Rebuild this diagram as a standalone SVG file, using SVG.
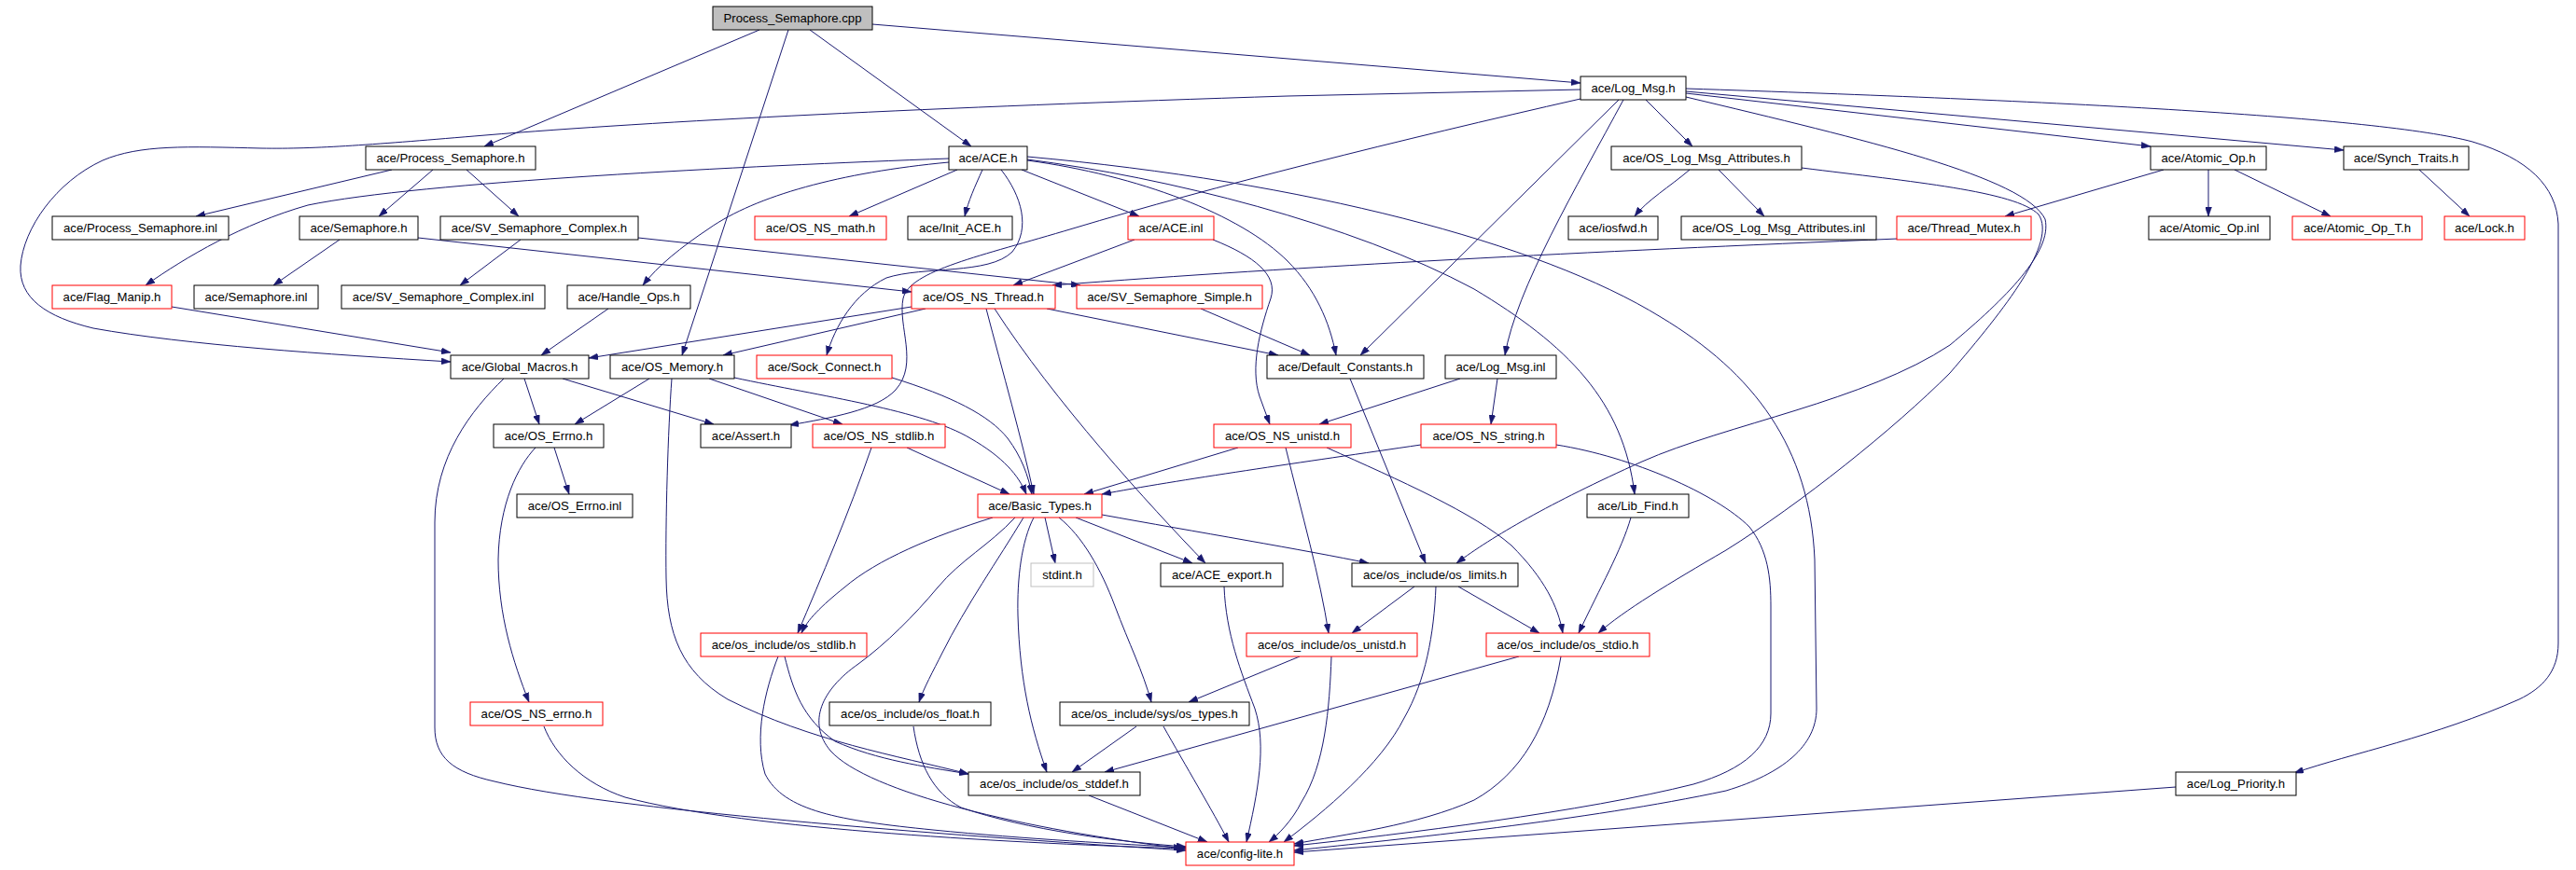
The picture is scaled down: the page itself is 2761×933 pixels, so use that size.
<svg xmlns="http://www.w3.org/2000/svg" width="2761" height="933" viewBox="0 0 2761 933">
<style>
rect{fill:#fff;stroke:#000;stroke-width:1}
.r rect{stroke:#ff0000}
.g rect{stroke:#bfbfbf}
.root rect{fill:#bfbfbf}
text{font-family:"Liberation Sans",Arial,sans-serif;font-size:13.2px;text-anchor:middle;fill:#000}
#edges path{fill:none;stroke:#191970;stroke-width:1;marker-end:url(#a)}
</style>
<defs>
<marker id="a" viewBox="0 0 10 7" refX="10" refY="3.5" markerWidth="10" markerHeight="7" markerUnits="userSpaceOnUse" orient="auto"><path d="M0,0 L10,3.5 L0,7 z" fill="#191970" stroke="#191970" stroke-width="0.5"/></marker>
</defs>
<rect x="0" y="0" width="2761" height="933" style="fill:#fff;stroke:none"/>
<g id="edges">
<path d="M814,32 L519,157"/>
<path d="M845,32 L731,381"/>
<path d="M868,32 L1041,157"/>
<path d="M935,26 L1694,89"/>
<path d="M1694,96 L1380,103 C1000,115 700,130 520,145 C400,155 340,160 280,159 C200,157 150,155 110,172 C60,195 25,245 22,285 C20,320 50,340 100,352 C200,370 350,380 483,388"/>
<path d="M1694,106 C1500,150 1300,200 1150,245 C1050,275 975,290 968,320 C962,350 985,390 960,418 C940,440 890,448 846,456"/>
<path d="M1073,182 C1095,210 1105,245 1085,270 C1060,295 990,285 950,298 C915,315 895,350 886,381"/>
<path d="M1735,107 L1458,381"/>
<path d="M1740,107 C1690,200 1625,310 1613,381"/>
<path d="M1764,107 L1814,157"/>
<path d="M1807,100 L2305,157"/>
<path d="M1807,98 L2512,161"/>
<path d="M1807,95 C2200,108 2550,125 2650,152 C2710,170 2740,200 2742,240 L2742,690 C2742,720 2725,738 2700,750 C2610,790 2520,808 2459,829"/>
<path d="M1807,104 C2000,150 2170,190 2192,235 C2200,270 2150,320 2090,370 C2000,430 1850,455 1760,495 C1660,540 1600,575 1561,604"/>
<path d="M1017,170 C800,178 450,195 330,220 C260,240 200,275 156,306"/>
<path d="M1017,174 C900,185 810,210 760,245 C730,265 705,285 689,306"/>
<path d="M1026,182 L910,232"/>
<path d="M1053,182 C1045,200 1038,215 1034,232"/>
<path d="M1095,182 L1221,232"/>
<path d="M1101,172 C1220,188 1330,230 1380,280 C1410,310 1425,345 1432,381"/>
<path d="M1101,171 C1250,190 1450,240 1580,310 C1680,370 1740,430 1752,530"/>
<path d="M1101,168 C1400,195 1650,260 1780,340 C1880,400 1940,480 1945,600 L1947,760 C1947,800 1910,830 1850,848 C1700,880 1500,900 1387,912"/>
<path d="M1216,257 L1086,306"/>
<path d="M1300,257 C1345,275 1370,295 1362,320 C1350,355 1340,395 1350,425 L1361,455"/>
<path d="M420,182 L210,232"/>
<path d="M464,182 L406,232"/>
<path d="M500,182 L556,232"/>
<path d="M364,257 L293,306"/>
<path d="M448,255 L977,313"/>
<path d="M558,257 L493,306"/>
<path d="M684,255 L1158,306"/>
<path d="M184,329 L483,378"/>
<path d="M652,331 L580,381"/>
<path d="M2034,256 C1700,270 1400,285 1128,306"/>
<path d="M2319,182 L2149,232"/>
<path d="M2367,182 L2367,232"/>
<path d="M2395,182 L2498,232"/>
<path d="M2593,182 L2647,232"/>
<path d="M1811,182 C1790,200 1765,215 1752,232"/>
<path d="M1842,182 L1891,232"/>
<path d="M1931,180 C2050,195 2160,205 2185,230 C2205,260 2150,330 2090,400 C2030,460 1930,540 1850,590 C1790,625 1740,655 1713,679"/>
<path d="M977,329 L631,384"/>
<path d="M992,331 L775,381"/>
<path d="M1057,331 C1075,400 1095,470 1108,530"/>
<path d="M1066,331 C1130,430 1230,540 1292,604"/>
<path d="M1122,331 L1370,381"/>
<path d="M1287,331 L1404,381"/>
<path d="M562,406 L578,455"/>
<path d="M603,406 L765,455"/>
<path d="M540,406 C505,440 466,490 466,560 L466,780 C466,812 485,828 530,838 C650,868 1000,895 1271,912"/>
<path d="M696,406 L616,455"/>
<path d="M760,406 L903,455"/>
<path d="M787,405 C880,425 990,440 1040,470 C1075,490 1092,510 1100,530"/>
<path d="M720,406 C716,460 713,560 714,620 C715,680 730,720 780,750 C870,795 960,810 1038,830"/>
<path d="M956,405 C1020,425 1060,445 1080,470 C1095,490 1102,510 1106,530"/>
<path d="M594,480 L610,530"/>
<path d="M574,480 C555,500 535,540 534,600 C534,660 550,710 567,753"/>
<path d="M1447,406 L1528,604"/>
<path d="M1565,406 L1414,455"/>
<path d="M1605,406 L1598,455"/>
<path d="M972,480 L1082,530"/>
<path d="M934,480 C910,550 880,620 855,679"/>
<path d="M1327,480 L1162,530"/>
<path d="M1378,480 C1395,550 1415,620 1424,679"/>
<path d="M1422,480 C1500,515 1580,550 1620,585 C1655,620 1670,650 1675,679"/>
<path d="M1523,477 C1400,495 1260,515 1181,530"/>
<path d="M1668,477 C1750,490 1840,530 1875,565 C1895,590 1898,620 1898,650 L1898,765 C1898,800 1870,825 1815,841 C1700,870 1500,895 1387,907"/>
<path d="M1748,555 C1738,590 1715,630 1692,679"/>
<path d="M1064,555 C1000,575 940,600 905,630 C880,650 865,665 859,679"/>
<path d="M1088,555 C1060,585 1030,600 1005,630 C980,660 950,690 920,712 C880,740 865,775 890,805 C930,850 1100,890 1268,910"/>
<path d="M1097,555 C1070,600 1035,650 1010,700 C1000,720 990,738 985,753"/>
<path d="M1108,555 C1095,580 1090,620 1091,660 C1093,730 1105,780 1122,828"/>
<path d="M1120,555 L1131,604"/>
<path d="M1135,555 C1160,575 1180,610 1195,650 C1210,690 1225,720 1234,753"/>
<path d="M1153,555 L1278,604"/>
<path d="M1181,552 C1280,570 1400,590 1467,604"/>
<path d="M1312,629 C1314,680 1330,720 1345,760 C1358,800 1348,850 1336,903"/>
<path d="M1516,629 L1449,679"/>
<path d="M1563,629 L1650,679"/>
<path d="M1539,629 C1537,680 1528,730 1505,770 C1480,820 1420,870 1376,903"/>
<path d="M1427,704 C1425,760 1420,820 1395,860 C1385,880 1370,895 1360,903"/>
<path d="M1393,704 L1274,753"/>
<path d="M1628,704 L1184,828"/>
<path d="M1673,704 C1660,780 1630,830 1580,858 C1520,885 1440,895 1387,905"/>
<path d="M834,704 C820,740 808,790 820,830 C840,870 900,880 1000,890 C1100,900 1200,905 1271,909"/>
<path d="M841,704 C850,740 860,770 895,795 C940,815 990,822 1038,830"/>
<path d="M583,779 C595,810 625,840 670,855 C800,890 1100,905 1271,910"/>
<path d="M979,779 C985,820 1000,850 1030,866 C1100,890 1200,903 1271,908"/>
<path d="M1218,779 L1149,828"/>
<path d="M1247,779 C1270,820 1300,870 1317,903"/>
<path d="M1167,853 L1294,903"/>
<path d="M2332,844 L1387,914"/>
</g>
<g id="n_cpp" class="root"><rect x="764" y="7" width="171" height="25"/><text x="849.5" y="24">Process_Semaphore.cpp</text></g>
<g id="n_log_msg_h"><rect x="1694" y="82" width="113" height="25"/><text x="1750.5" y="99">ace/Log_Msg.h</text></g>
<g id="n_process_semaphore_h"><rect x="392" y="157" width="182" height="25"/><text x="483" y="174">ace/Process_Semaphore.h</text></g>
<g id="n_ace_h"><rect x="1017" y="157" width="84" height="25"/><text x="1059" y="174">ace/ACE.h</text></g>
<g id="n_os_log_msg_attributes_h"><rect x="1727" y="157" width="204" height="25"/><text x="1829" y="174">ace/OS_Log_Msg_Attributes.h</text></g>
<g id="n_atomic_op_h"><rect x="2305" y="157" width="124" height="25"/><text x="2367" y="174">ace/Atomic_Op.h</text></g>
<g id="n_synch_traits_h"><rect x="2512" y="157" width="134" height="25"/><text x="2579" y="174">ace/Synch_Traits.h</text></g>
<g id="n_process_semaphore_inl"><rect x="56" y="232" width="189" height="25"/><text x="150.5" y="249">ace/Process_Semaphore.inl</text></g>
<g id="n_semaphore_h"><rect x="321" y="232" width="127" height="25"/><text x="384.5" y="249">ace/Semaphore.h</text></g>
<g id="n_sv_semaphore_complex_h"><rect x="472" y="232" width="212" height="25"/><text x="578" y="249">ace/SV_Semaphore_Complex.h</text></g>
<g id="n_os_ns_math_h" class="r"><rect x="809" y="232" width="141" height="25"/><text x="879.5" y="249">ace/OS_NS_math.h</text></g>
<g id="n_init_ace_h"><rect x="973" y="232" width="112" height="25"/><text x="1029" y="249">ace/Init_ACE.h</text></g>
<g id="n_ace_inl" class="r"><rect x="1209" y="232" width="92" height="25"/><text x="1255" y="249">ace/ACE.inl</text></g>
<g id="n_iosfwd_h"><rect x="1681" y="232" width="96" height="25"/><text x="1729" y="249">ace/iosfwd.h</text></g>
<g id="n_os_log_msg_attributes_inl"><rect x="1802" y="232" width="209" height="25"/><text x="1906.5" y="249">ace/OS_Log_Msg_Attributes.inl</text></g>
<g id="n_thread_mutex_h" class="r"><rect x="2033" y="232" width="144" height="25"/><text x="2105" y="249">ace/Thread_Mutex.h</text></g>
<g id="n_atomic_op_inl"><rect x="2303" y="232" width="130" height="25"/><text x="2368" y="249">ace/Atomic_Op.inl</text></g>
<g id="n_atomic_op_t_h" class="r"><rect x="2457" y="232" width="139" height="25"/><text x="2526.5" y="249">ace/Atomic_Op_T.h</text></g>
<g id="n_lock_h" class="r"><rect x="2620" y="232" width="86" height="25"/><text x="2663" y="249">ace/Lock.h</text></g>
<g id="n_flag_manip_h" class="r"><rect x="56" y="306" width="128" height="25"/><text x="120" y="323">ace/Flag_Manip.h</text></g>
<g id="n_semaphore_inl"><rect x="208" y="306" width="133" height="25"/><text x="274.5" y="323">ace/Semaphore.inl</text></g>
<g id="n_sv_semaphore_complex_inl"><rect x="366" y="306" width="218" height="25"/><text x="475" y="323">ace/SV_Semaphore_Complex.inl</text></g>
<g id="n_handle_ops_h"><rect x="608" y="306" width="132" height="25"/><text x="674" y="323">ace/Handle_Ops.h</text></g>
<g id="n_os_ns_thread_h" class="r"><rect x="977" y="306" width="154" height="25"/><text x="1054" y="323">ace/OS_NS_Thread.h</text></g>
<g id="n_sv_semaphore_simple_h" class="r"><rect x="1154" y="306" width="199" height="25"/><text x="1253.5" y="323">ace/SV_Semaphore_Simple.h</text></g>
<g id="n_global_macros_h"><rect x="483" y="381" width="148" height="25"/><text x="557" y="398">ace/Global_Macros.h</text></g>
<g id="n_os_memory_h"><rect x="654" y="381" width="133" height="25"/><text x="720.5" y="398">ace/OS_Memory.h</text></g>
<g id="n_sock_connect_h" class="r"><rect x="811" y="381" width="145" height="25"/><text x="883.5" y="398">ace/Sock_Connect.h</text></g>
<g id="n_default_constants_h"><rect x="1358" y="381" width="168" height="25"/><text x="1442" y="398">ace/Default_Constants.h</text></g>
<g id="n_log_msg_inl"><rect x="1549" y="381" width="119" height="25"/><text x="1608.5" y="398">ace/Log_Msg.inl</text></g>
<g id="n_os_errno_h"><rect x="529" y="455" width="118" height="25"/><text x="588" y="472">ace/OS_Errno.h</text></g>
<g id="n_assert_h"><rect x="751" y="455" width="97" height="25"/><text x="799.5" y="472">ace/Assert.h</text></g>
<g id="n_os_ns_stdlib_h" class="r"><rect x="871" y="455" width="142" height="25"/><text x="942" y="472">ace/OS_NS_stdlib.h</text></g>
<g id="n_os_ns_unistd_h" class="r"><rect x="1301" y="455" width="147" height="25"/><text x="1374.5" y="472">ace/OS_NS_unistd.h</text></g>
<g id="n_os_ns_string_h" class="r"><rect x="1523" y="455" width="145" height="25"/><text x="1595.5" y="472">ace/OS_NS_string.h</text></g>
<g id="n_os_errno_inl"><rect x="554" y="530" width="124" height="25"/><text x="616" y="547">ace/OS_Errno.inl</text></g>
<g id="n_basic_types_h" class="r"><rect x="1048" y="530" width="133" height="25"/><text x="1114.5" y="547">ace/Basic_Types.h</text></g>
<g id="n_lib_find_h"><rect x="1701" y="530" width="109" height="25"/><text x="1755.5" y="547">ace/Lib_Find.h</text></g>
<g id="n_stdint_h" class="g"><rect x="1105" y="604" width="67" height="25"/><text x="1138.5" y="621">stdint.h</text></g>
<g id="n_ace_export_h"><rect x="1244" y="604" width="131" height="25"/><text x="1309.5" y="621">ace/ACE_export.h</text></g>
<g id="n_os_limits_h"><rect x="1449" y="604" width="178" height="25"/><text x="1538" y="621">ace/os_include/os_limits.h</text></g>
<g id="n_os_stdlib_h" class="r"><rect x="751" y="679" width="178" height="25"/><text x="840" y="696">ace/os_include/os_stdlib.h</text></g>
<g id="n_os_unistd_h" class="r"><rect x="1336" y="679" width="183" height="25"/><text x="1427.5" y="696">ace/os_include/os_unistd.h</text></g>
<g id="n_os_stdio_h" class="r"><rect x="1593" y="679" width="175" height="25"/><text x="1680.5" y="696">ace/os_include/os_stdio.h</text></g>
<g id="n_os_ns_errno_h" class="r"><rect x="504" y="753" width="142" height="25"/><text x="575" y="770">ace/OS_NS_errno.h</text></g>
<g id="n_os_float_h"><rect x="889" y="753" width="173" height="25"/><text x="975.5" y="770">ace/os_include/os_float.h</text></g>
<g id="n_os_types_h"><rect x="1136" y="753" width="203" height="25"/><text x="1237.5" y="770">ace/os_include/sys/os_types.h</text></g>
<g id="n_os_stddef_h"><rect x="1038" y="828" width="184" height="25"/><text x="1130" y="845">ace/os_include/os_stddef.h</text></g>
<g id="n_log_priority_h"><rect x="2332" y="828" width="129" height="25"/><text x="2396.5" y="845">ace/Log_Priority.h</text></g>
<g id="n_config_lite_h" class="r"><rect x="1271" y="903" width="116" height="25"/><text x="1329" y="920">ace/config-lite.h</text></g>
</svg>
